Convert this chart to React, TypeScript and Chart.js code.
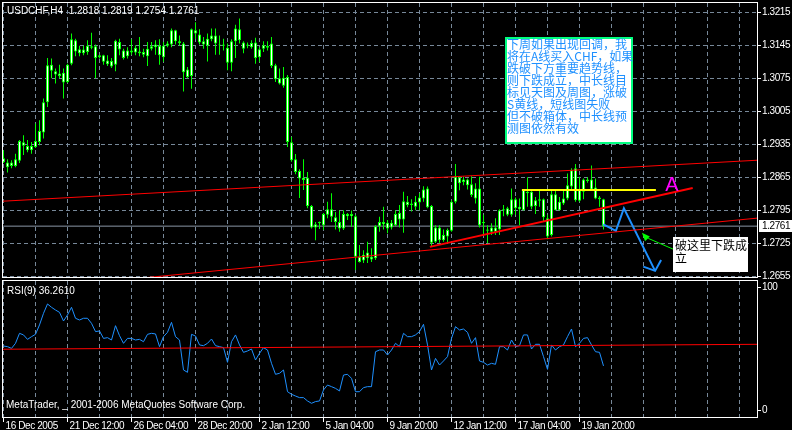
import React, { useEffect, useRef } from "react";
import { Chart, registerables } from "chart.js";

Chart.register(...registerables);

// ---------------- data (USDCHF H4) ----------------
const opens = [
  1.2905, 1.2886, 1.2896, 1.2889, 1.2900, 1.2939, 1.2931, 1.2922, 1.2929, 1.2940,
  1.2960, 1.3024, 1.3104, 1.3090, 1.3085, 1.3087, 1.3067, 1.3106, 1.3156, 1.3137,
  1.3128, 1.3131, 1.3143, 1.3143, 1.3120, 1.3124, 1.3113, 1.3112, 1.3104, 1.3152,
  1.3134, 1.3122, 1.3130, 1.3140, 1.3128, 1.3131, 1.3122, 1.3138, 1.3141, 1.3144,
  1.3120, 1.3144, 1.3147, 1.3177, 1.3154, 1.3149, 1.3094, 1.3080, 1.3177, 1.3168,
  1.3154, 1.3144, 1.3158, 1.3166, 1.3147, 1.3147, 1.3140, 1.3108, 1.3154, 1.3179,
  1.3151, 1.3144, 1.3141, 1.3151, 1.3120, 1.3138, 1.3140, 1.3149, 1.3103, 1.3075,
  1.3059, 1.3078, 1.2939, 1.2903, 1.2878, 1.2864, 1.2864, 1.2804, 1.2758, 1.2767,
  1.2763, 1.2785, 1.2797, 1.2780, 1.2770, 1.2756, 1.2787, 1.2782, 1.2782, 1.2696,
  1.2688, 1.2705, 1.2690, 1.2693, 1.2761, 1.2770, 1.2768, 1.2758, 1.2763, 1.2775,
  1.2775, 1.2813, 1.2806, 1.2802, 1.2811, 1.2820, 1.2841, 1.2804, 1.2728, 1.2758,
  1.2731, 1.2739, 1.2751, 1.2813, 1.2865, 1.2860, 1.2860, 1.2850, 1.2820, 1.2841,
  1.2770, 1.2754, 1.2749, 1.2758, 1.2754, 1.2794, 1.2799, 1.2785, 1.2818, 1.2797,
  1.2795, 1.2834, 1.2834, 1.2804, 1.2815, 1.2818, 1.2778, 1.2742, 1.2829, 1.2795,
  1.2809, 1.2820, 1.2845, 1.2884, 1.2815, 1.2834, 1.2860, 1.2860, 1.2843, 1.2822,
  1.2818,
];
const highs = [
  1.2922, 1.2903, 1.2901, 1.2915, 1.2944, 1.2954, 1.2944, 1.2940, 1.2979, 1.2986,
  1.3032, 1.3118, 1.3117, 1.3096, 1.3104, 1.3096, 1.3106, 1.3170, 1.3159, 1.3144,
  1.3144, 1.3156, 1.3172, 1.3147, 1.3125, 1.3125, 1.3124, 1.3118, 1.3157, 1.3159,
  1.3138, 1.3141, 1.3158, 1.3145, 1.3163, 1.3138, 1.3152, 1.3152, 1.3156, 1.3158,
  1.3152, 1.3154, 1.3181, 1.3178, 1.3166, 1.3152, 1.3099, 1.3181, 1.3194, 1.3179,
  1.3163, 1.3170, 1.3181, 1.3181, 1.3166, 1.3159, 1.3149, 1.3158, 1.3189, 1.3202,
  1.3154, 1.3151, 1.3156, 1.3161, 1.3141, 1.3154, 1.3154, 1.3163, 1.3106, 1.3096,
  1.3099, 1.3082, 1.2951, 1.2914, 1.2882, 1.2903, 1.2876, 1.2806, 1.2770, 1.2771,
  1.2789, 1.2813, 1.2831, 1.2791, 1.2794, 1.2795, 1.2789, 1.2794, 1.2785, 1.2721,
  1.2710, 1.2728, 1.2714, 1.2763, 1.2781, 1.2802, 1.2774, 1.2774, 1.2795, 1.2806,
  1.2834, 1.2825, 1.2818, 1.2825, 1.2831, 1.2846, 1.2845, 1.2806, 1.2763, 1.2763,
  1.2754, 1.2756, 1.2816, 1.2893, 1.2867, 1.2866, 1.2862, 1.2867, 1.2852, 1.2866,
  1.2785, 1.2763, 1.2767, 1.2778, 1.2797, 1.2806, 1.2802, 1.2841, 1.2822, 1.2820,
  1.2839, 1.2865, 1.2838, 1.2823, 1.2838, 1.2820, 1.2785, 1.2838, 1.2838, 1.2823,
  1.2838, 1.2873, 1.2884, 1.2893, 1.2866, 1.2862, 1.2865, 1.2890, 1.2862, 1.2825,
  1.2819,
];
const lows = [
  1.2895, 1.2875, 1.2884, 1.2886, 1.2895, 1.2912, 1.2918, 1.2915, 1.2927, 1.2933,
  1.2947, 1.3014, 1.3075, 1.3064, 1.3075, 1.3032, 1.3065, 1.3103, 1.3122, 1.3122,
  1.3124, 1.3125, 1.3137, 1.3075, 1.3117, 1.3104, 1.3101, 1.3097, 1.3090, 1.3124,
  1.3115, 1.3117, 1.3125, 1.3124, 1.3122, 1.3120, 1.3101, 1.3134, 1.3125, 1.3104,
  1.3110, 1.3141, 1.3141, 1.3147, 1.3144, 1.3047, 1.3075, 1.3053, 1.3159, 1.3147,
  1.3138, 1.3111, 1.3154, 1.3125, 1.3125, 1.3134, 1.3092, 1.3090, 1.3118, 1.3149,
  1.3128, 1.3139, 1.3138, 1.3106, 1.3110, 1.3131, 1.3134, 1.3097, 1.3067, 1.3062,
  1.3055, 1.2929, 1.2898, 1.2871, 1.2821, 1.2838, 1.2799, 1.2756, 1.2731, 1.2755,
  1.2753, 1.2778, 1.2770, 1.2754, 1.2749, 1.2753, 1.2774, 1.2760, 1.2668, 1.2684,
  1.2683, 1.2683, 1.2685, 1.2689, 1.2749, 1.2754, 1.2746, 1.2754, 1.2761, 1.2758,
  1.2747, 1.2801, 1.2792, 1.2795, 1.2795, 1.2813, 1.2799, 1.2719, 1.2725, 1.2726,
  1.2728, 1.2725, 1.2749, 1.2809, 1.2837, 1.2848, 1.2839, 1.2823, 1.2809, 1.2758,
  1.2742, 1.2725, 1.2742, 1.2742, 1.2742, 1.2782, 1.2782, 1.2781, 1.2785, 1.2763,
  1.2794, 1.2802, 1.2797, 1.2787, 1.2802, 1.2772, 1.2733, 1.2739, 1.2794, 1.2794,
  1.2806, 1.2816, 1.2839, 1.2813, 1.2813, 1.2818, 1.2853, 1.2836, 1.2818, 1.2802,
  1.2754,
];
const closes = [
  1.2897, 1.2896, 1.2889, 1.2903, 1.2942, 1.2932, 1.2922, 1.2931, 1.2942, 1.2963,
  1.3024, 1.3103, 1.3091, 1.3083, 1.3080, 1.3066, 1.3104, 1.3158, 1.3132, 1.3128,
  1.3136, 1.3144, 1.3140, 1.3118, 1.3124, 1.3110, 1.3105, 1.3100, 1.3155, 1.3136,
  1.3118, 1.3134, 1.3134, 1.3130, 1.3132, 1.3125, 1.3138, 1.3143, 1.3147, 1.3124,
  1.3144, 1.3149, 1.3177, 1.3154, 1.3150, 1.3088, 1.3078, 1.3179, 1.3170, 1.3151,
  1.3147, 1.3159, 1.3166, 1.3149, 1.3145, 1.3144, 1.3108, 1.3154, 1.3181, 1.3156,
  1.3138, 1.3147, 1.3150, 1.3118, 1.3137, 1.3145, 1.3144, 1.3101, 1.3073, 1.3064,
  1.3076, 1.2940, 1.2901, 1.2876, 1.2862, 1.2859, 1.2804, 1.2758, 1.2765, 1.2770,
  1.2787, 1.2797, 1.2781, 1.2770, 1.2756, 1.2787, 1.2782, 1.2787, 1.2696, 1.2685,
  1.2700, 1.2693, 1.2696, 1.2761, 1.2770, 1.2765, 1.2756, 1.2768, 1.2787, 1.2789,
  1.2814, 1.2806, 1.2809, 1.2813, 1.2822, 1.2839, 1.2801, 1.2726, 1.2758, 1.2731,
  1.2742, 1.2753, 1.2813, 1.2866, 1.2852, 1.2855, 1.2848, 1.2827, 1.2841, 1.2763,
  1.2767, 1.2751, 1.2758, 1.2749, 1.2795, 1.2797, 1.2785, 1.2818, 1.2799, 1.2802,
  1.2838, 1.2831, 1.2802, 1.2816, 1.2818, 1.2780, 1.2739, 1.2829, 1.2795, 1.2813,
  1.2820, 1.2848, 1.2880, 1.2816, 1.2838, 1.2860, 1.2857, 1.2839, 1.2820, 1.2818,
  1.2761,
];
const rsiValues = [
  52.4, 51.9, 50.5, 54.6, 62.7, 61.4, 57.8, 60.0, 61.9, 69.5,
  78.9, 86.5, 83.8, 81.6, 79.7, 72.7, 77.6, 83.8, 74.9, 73.5,
  74.9, 74.9, 70.8, 64.1, 64.6, 58.6, 59.2, 57.3, 68.9, 60.8,
  54.6, 58.6, 58.6, 57.3, 57.8, 55.9, 61.9, 62.7, 62.2, 51.9,
  60.0, 63.5, 71.6, 60.0, 57.3, 33.0, 31.1, 61.9, 60.5, 53.3,
  52.7, 54.6, 58.1, 52.7, 51.9, 51.1, 39.2, 55.9, 61.4, 53.3,
  47.3, 48.4, 50.0, 41.1, 46.5, 51.1, 49.2, 38.4, 29.5, 30.3,
  33.0, 15.4, 13.3, 11.9, 10.6, 10.6, 7.9, 6.0, 7.4, 7.9,
  16.8, 20.8, 19.5, 18.1, 16.0, 28.9, 29.5, 26.2, 15.4, 15.4,
  18.7, 19.5, 19.5, 47.8, 49.2, 49.2, 45.1, 49.2, 54.6, 51.9,
  62.7, 60.0, 60.0, 61.4, 64.1, 70.0, 53.3, 33.0, 42.4, 37.0,
  40.3, 43.8, 58.6, 68.1, 65.4, 66.2, 63.5, 54.6, 59.2, 40.3,
  39.2, 37.0, 38.4, 37.6, 51.9, 51.9, 49.2, 57.3, 51.9, 52.7,
  61.4, 61.4, 50.0, 53.8, 53.8, 43.8, 33.5, 53.3, 49.2, 51.9,
  53.3, 60.0, 66.2, 51.9, 54.6, 58.6, 59.2, 53.3, 47.8, 47.3,
  36.3,
];

const dateLabels = [
  "16 Dec 2005", "21 Dec 12:00", "26 Dec 04:00", "28 Dec 20:00", "2 Jan 12:00",
  "5 Jan 04:00", "9 Jan 20:00", "12 Jan 12:00", "17 Jan 04:00", "19 Jan 20:00",
];
const dateLabelBars = [0, 16, 32, 48, 64, 80, 96, 112, 128, 144];
const priceTicks = [1.2655, 1.2725, 1.2795, 1.2865, 1.2935, 1.3005, 1.3075, 1.3145, 1.3215];
const rsiTicks = [0, 100];
const lastPrice = 1.2761;
const headerText = "USDCHF,H4  1.2818 1.2819 1.2754 1.2761";
const rsiText = "RSI(9) 36.2610";
const copyrightText = "MetaTrader, _ 2001-2006 MetaQuotes Software Corp.";

// drawn objects (bar index, price)
const upperChannel = [{ x: -0.125, y: 1.2814 }, { x: 188.375, y: 1.2901 }];
const lowerChannel = [{ x: 30, y: 1.2647 }, { x: 188.375, y: 1.2778 }];
const trendA = [{ x: 106.6, y: 1.2717 }, { x: 172.3, y: 1.2842 }];
const yellowLevel = [{ x: 129.6, y: 1.2838 }, { x: 163.1, y: 1.2838 }];
const forecastPath = [
  { x: 149.95, y: 1.2765 }, { x: 153.1, y: 1.2751 }, { x: 155.1, y: 1.2799 }, { x: 162.9, y: 1.2666 },
];
const forecastHead = [{ x: 159.95, y: 1.2675 }, { x: 162.9, y: 1.2666 }, { x: 164.4, y: 1.2689 }];
const pointerLine = [{ x: 161.2, y: 1.2735 }, { x: 167.45, y: 1.2712 }];
const pointerHead = [{ x: 159.6, y: 1.2747 }, { x: 161.6, y: 1.2739 }, { x: 160.4, y: 1.2729 }];
const rsiLevel = [{ x: -0.125, y: 49.8 }, { x: 188.375, y: 53.8 }];

const noteLines = [
  "下周如果出现回调，我",
  "将在A线买入CHF，如果",
  "跌破下方重要趋势线，",
  "则下跌成立，中长线目",
  "标见天图及周图，涨破",
  "S黄线，短线图失败",
  "但不破箱体，中长线预",
  "测图依然有效",
];
const breakLines = ["破这里下跌成", "立"];

// ---------------- layout / style ----------------
const X_MIN = -0.125;
const X_MAX = 188.375;
const W = 792;
const TOP_H = 280;
const BOT_H = 150;
const AXIS_W = 35;
const GRID = "#778899";
const DASH = [4, 3];
const FONT = '"Liberation Sans", Arial, sans-serif';
const CJK = '"Noto Sans CJK SC", "Noto Sans CJK JP", sans-serif';
const gridBars = Array.from({ length: 24 }, (_, k) => k * 8);

const NOTE_BOX = { x0: 125.4, x1: 157.4, y0: 1.3163, y1: 1.29355 };
const BREAK_BOX = { x0: 167.4, x1: 186.1, y0: 1.2738, y1: 1.26636 };
const A_MARK = { x: 167.1, y: 1.2848 };

function lineDs(data: any, color: string, width: number, order = 1) {
  return {
    type: "line" as const,
    data,
    borderColor: color,
    borderWidth: width,
    pointRadius: 0,
    fill: false,
    tension: 0,
    order,
  };
}

function xScaleCfg() {
  return {
    type: "linear" as const,
    min: X_MIN,
    max: X_MAX,
    offset: false,
    afterBuildTicks: (s: any) => {
      s.ticks = gridBars.map((v) => ({ value: v }));
    },
    afterFit: (s: any) => {
      s.height = 0;
    },
    ticks: { display: false },
    grid: { color: GRID, lineWidth: 1, drawTicks: false, offset: false },
    border: { display: false, dash: DASH },
  };
}

const topPlugin = {
  id: "topDecor",
  beforeDraw(chart: any) {
    const { ctx, width, height } = chart;
    ctx.save();
    ctx.fillStyle = "#000";
    ctx.fillRect(0, 0, width, height);
    ctx.restore();
  },
  afterDraw(chart: any) {
    const { ctx, chartArea, scales } = chart;
    const { left, top, right, bottom } = chartArea;
    const x = scales.x;
    const y = scales.y;
    ctx.save();

    // arrowhead of the green pointer
    ctx.fillStyle = "#00ff00";
    ctx.beginPath();
    pointerHead.forEach((p, i) => {
      const px = x.getPixelForValue(p.x);
      const py = y.getPixelForValue(p.y);
      if (i === 0) ctx.moveTo(px, py);
      else ctx.lineTo(px, py);
    });
    ctx.closePath();
    ctx.fill();

    // magenta A
    ctx.fillStyle = "#ff00ff";
    ctx.font = `20px ${FONT}`;
    ctx.textAlign = "center";
    ctx.textBaseline = "middle";
    ctx.fillText("A", x.getPixelForValue(A_MARK.x), y.getPixelForValue(A_MARK.y));

    // note box
    {
      const bx0 = Math.round(x.getPixelForValue(NOTE_BOX.x0));
      const bx1 = Math.round(x.getPixelForValue(NOTE_BOX.x1));
      const by0 = Math.round(y.getPixelForValue(NOTE_BOX.y0));
      const by1 = Math.round(y.getPixelForValue(NOTE_BOX.y1));
      ctx.fillStyle = "#ffffff";
      ctx.fillRect(bx0, by0, bx1 - bx0, by1 - by0);
      ctx.strokeStyle = "#00ff80";
      ctx.lineWidth = 2;
      ctx.strokeRect(bx0 + 1, by0 + 1, bx1 - bx0 - 2, by1 - by0 - 2);
      ctx.fillStyle = "#1e90ff";
      ctx.font = `12px ${CJK}`;
      ctx.textAlign = "left";
      ctx.textBaseline = "middle";
      noteLines.forEach((t, i) => ctx.fillText(t, bx0 + 2, by0 + 7 + i * 12));
    }

    // break box
    {
      const bx0 = Math.round(x.getPixelForValue(BREAK_BOX.x0));
      const bx1 = Math.round(x.getPixelForValue(BREAK_BOX.x1));
      const by0 = Math.round(y.getPixelForValue(BREAK_BOX.y0));
      const by1 = Math.round(y.getPixelForValue(BREAK_BOX.y1));
      ctx.fillStyle = "#ffffff";
      ctx.fillRect(bx0, by0, bx1 - bx0, by1 - by0);
      ctx.fillStyle = "#000000";
      ctx.font = `12px ${CJK}`;
      ctx.textAlign = "left";
      ctx.textBaseline = "middle";
      breakLines.forEach((t, i) => ctx.fillText(t, bx0 + 2, by0 + 8 + i * 13));
    }

    // frame
    ctx.strokeStyle = "#ffffff";
    ctx.lineWidth = 1;
    ctx.strokeRect(left - 0.5, top - 0.5, right - left + 1, bottom - top + 1);

    // texts
    ctx.font = `10px ${FONT}`;
    ctx.fillStyle = "#ffffff";
    ctx.textAlign = "left";
    ctx.textBaseline = "middle";
    ctx.fillText(headerText, 7, 11);
    (ctx as any).letterSpacing = "-0.4px";
    priceTicks.forEach((v) => ctx.fillText(v.toFixed(4), right + 5, y.getPixelForValue(v)));

    const py = Math.round(y.getPixelForValue(lastPrice));
    ctx.fillStyle = "#ffffff";
    ctx.fillRect(right + 2, py - 6, W - right - 2, 12);
    ctx.fillStyle = "#000000";
    ctx.fillText(lastPrice.toFixed(4), right + 5, py);
    (ctx as any).letterSpacing = "0px";
    ctx.restore();
  },
};

const botPlugin = {
  id: "botDecor",
  beforeDraw(chart: any) {
    const { ctx, width, height } = chart;
    ctx.save();
    ctx.fillStyle = "#000";
    ctx.fillRect(0, 0, width, height);
    ctx.restore();
  },
  afterDraw(chart: any) {
    const { ctx, chartArea, scales } = chart;
    const { left, top, right, bottom } = chartArea;
    const x = scales.x;
    const y = scales.y;
    ctx.save();
    ctx.strokeStyle = "#ffffff";
    ctx.lineWidth = 1;
    ctx.strokeRect(left - 0.5, top - 0.5, right - left + 1, bottom - top + 1);

    ctx.font = `10px ${FONT}`;
    ctx.fillStyle = "#ffffff";
    ctx.textAlign = "left";
    ctx.textBaseline = "middle";
    ctx.fillText(rsiText, 7, 11);
    ctx.fillText(copyrightText, 6, 125);
    (ctx as any).letterSpacing = "-0.4px";
    rsiTicks.forEach((v) => ctx.fillText(String(v), right + 5, y.getPixelForValue(v)));

    ctx.textBaseline = "alphabetic";
    dateLabelBars.forEach((b, i) => {
      const px = Math.floor(x.getPixelForValue(b)) + 0.5;
      ctx.beginPath();
      ctx.moveTo(px, bottom);
      ctx.lineTo(px, bottom + 5);
      ctx.stroke();
      ctx.fillText(dateLabels[i], px + 2, 149);
    });
    (ctx as any).letterSpacing = "0px";
    ctx.restore();
  },
};

export default function App() {
  const topRef = useRef<HTMLCanvasElement>(null);
  const botRef = useRef<HTMLCanvasElement>(null);

  useEffect(() => {
    const bodies = opens.map((o, i) => ({ x: i, y: [Math.min(o, closes[i]), Math.max(o, closes[i])] }));
    const wicks = lows.map((l, i) => ({ x: i, y: [l, highs[i]] }));
    const priceLine = [{ x: X_MIN, y: lastPrice }, { x: X_MAX, y: lastPrice }];

    const top = new Chart(topRef.current as HTMLCanvasElement, {
      type: "bar",
      data: {
        datasets: [
          lineDs(yellowLevel, "#ffff00", 2, 1),
          lineDs(trendA, "#ff0000", 2, 1),
          lineDs(upperChannel, "#ff0000", 1, 1),
          lineDs(lowerChannel, "#ff0000", 1, 1),
          lineDs(forecastPath, "#1e90ff", 2, 1),
          lineDs(forecastHead, "#1e90ff", 2, 1),
          lineDs(pointerLine, "#00ff00", 1, 1),
          {
            type: "bar",
            data: bodies,
            backgroundColor: "#ffffff",
            borderColor: "#00ff00",
            borderWidth: 1,
            borderSkipped: false,
            barThickness: 3,
            grouped: false,
            inflateAmount: 0,
            order: 10,
          } as any,
          {
            type: "bar",
            data: wicks,
            backgroundColor: "#00ff00",
            borderWidth: 0,
            barThickness: 1,
            grouped: false,
            inflateAmount: 0,
            order: 11,
          } as any,
          lineDs(priceLine, "#8a96a6", 1, 20),
        ],
      },
      options: {
        responsive: false,
        maintainAspectRatio: false,
        animation: false,
        devicePixelRatio: 1,
        events: [],
        layout: { padding: { left: 3, right: 0, top: 3, bottom: 3 } },
        plugins: { legend: { display: false }, tooltip: { enabled: false } },
        scales: {
          x: xScaleCfg() as any,
          y: {
            type: "linear",
            position: "right",
            min: 1.2653,
            max: 1.3235,
            afterBuildTicks: (s: any) => {
              s.ticks = priceTicks.map((v) => ({ value: v }));
            },
            afterFit: (s: any) => {
              s.width = AXIS_W;
            },
            ticks: { display: false },
            grid: { color: GRID, drawTicks: true, tickLength: 4, tickColor: "#ffffff", tickBorderDash: [] },
            border: { display: false, dash: DASH },
          } as any,
        },
      },
      plugins: [topPlugin],
    });

    const bot = new Chart(botRef.current as HTMLCanvasElement, {
      type: "line",
      data: {
        datasets: [
          lineDs(rsiLevel, "#ff0000", 1, 1),
          lineDs(rsiValues.map((v, i) => ({ x: i, y: v })), "#1e90ff", 1, 2),
        ],
      },
      options: {
        responsive: false,
        maintainAspectRatio: false,
        animation: false,
        devicePixelRatio: 1,
        events: [],
        layout: { padding: { left: 3, right: 0, top: 1, bottom: 13 } },
        plugins: { legend: { display: false }, tooltip: { enabled: false } },
        scales: {
          x: xScaleCfg() as any,
          y: {
            type: "linear",
            position: "right",
            min: -5.1,
            max: 105.1,
            afterBuildTicks: (s: any) => {
              s.ticks = rsiTicks.map((v) => ({ value: v }));
            },
            afterFit: (s: any) => {
              s.width = AXIS_W;
            },
            ticks: { display: false },
            grid: { drawOnChartArea: false, drawTicks: true, tickLength: 4, tickColor: "#ffffff" },
            border: { display: false },
          } as any,
        },
      },
      plugins: [botPlugin],
    });

    return () => {
      top.destroy();
      bot.destroy();
    };
  }, []);

  return (
    <div style={{ position: "fixed", left: 0, top: 0, width: W, height: TOP_H + BOT_H, background: "#000" }}>
      <canvas ref={topRef} width={W} height={TOP_H} style={{ display: "block", width: W, height: TOP_H }} />
      <canvas ref={botRef} width={W} height={BOT_H} style={{ display: "block", width: W, height: BOT_H }} />
    </div>
  );
}
